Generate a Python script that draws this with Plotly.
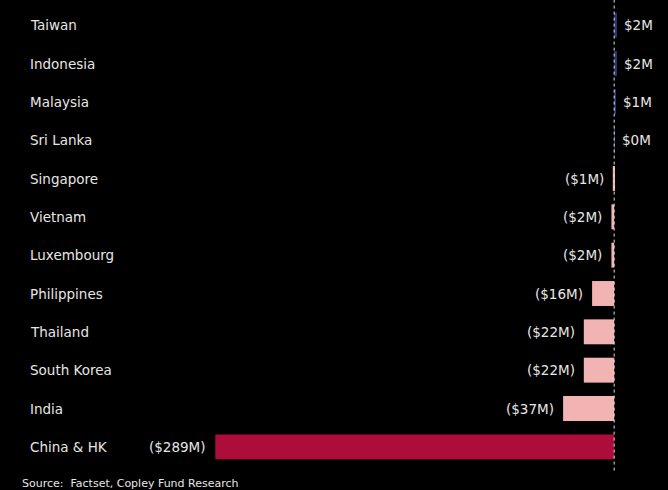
import plotly.graph_objects as go

countries = ["Taiwan", "Indonesia", "Malaysia", "Sri Lanka", "Singapore", "Vietnam",
             "Luxembourg", "Philippines", "Thailand", "South Korea", "India", "China & HK"]
flows_musd = [2, 2, 1, 0.4, -1, -2, -2, -16, -22, -22, -37, -289]

def fmt(v):
    r = round(abs(v))
    return f"${r}M" if v >= 0 else f"(${r}M)"

labels = [fmt(v) for v in flows_musd]
colors = []
for c, v in zip(countries, flows_musd):
    if c == "China & HK":
        colors.append("#ad0d3a")
    elif v >= 0:
        colors.append("#2b3875")
    else:
        colors.append("#f2b3b3")

FONT = "DejaVu Sans"
TXT = "#e6e6e6"

fig = go.Figure(go.Bar(
    x=flows_musd, y=countries, orientation="h",
    marker=dict(color=colors, line=dict(width=0)),
    width=0.65, hoverinfo="skip",
))

ann = []
for c, v, t in zip(countries, flows_musd, labels):
    ann.append(dict(x=v, y=c, xref="x", yref="y", text=t, showarrow=False,
                    xanchor="left" if v >= 0 else "right",
                    xshift=5 if v >= 0 else -7,
                    font=dict(family=FONT, size=13.5, color=TXT)))
    ann.append(dict(x=28/668, y=c, xref="paper", yref="y", text=c, showarrow=False,
                    xanchor="left", font=dict(family=FONT, size=13.5, color=TXT)))
ann.append(dict(x=20/668, y=0, xref="paper", yref="paper", yshift=-17,
                text="Source:&nbsp; Factset, Copley Fund Research", showarrow=False,
                xanchor="left", yanchor="middle",
                font=dict(family=FONT, size=11, color=TXT)))

fig.update_layout(
    width=668, height=490,
    paper_bgcolor="black", plot_bgcolor="black",
    margin=dict(l=0, r=0, t=6, b=24),
    showlegend=False,
    xaxis=dict(range=[-445, 39], visible=False, fixedrange=True),
    yaxis=dict(categoryorder="array", categoryarray=countries, autorange="reversed",
               visible=False, fixedrange=True),
    annotations=ann,
    shapes=[dict(type="line", xref="x", yref="paper", x0=0, x1=0, y0=-0.01, y1=1.02,
                 line=dict(color="#e0e0e0", width=1, dash="dot"))],
)

fig.write_html("out.html", config={"displayModeBar": False},
               post_script="document.body.style.margin='0';document.body.style.background='black';")
